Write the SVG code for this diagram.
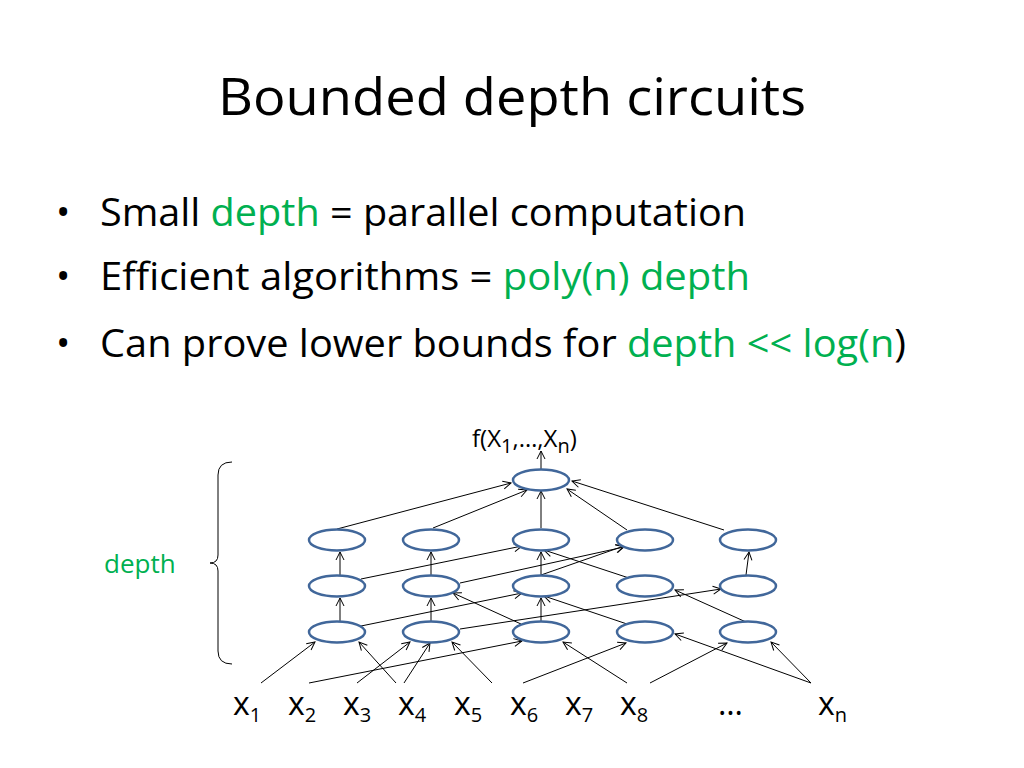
<svg xmlns="http://www.w3.org/2000/svg" width="1024" height="768" viewBox="0 0 1024 768">
<defs><marker id="a" markerWidth="10" markerHeight="10" refX="9" refY="5" orient="auto" markerUnits="userSpaceOnUse"><path d="M1,1 L9,5 L1,9" fill="none" stroke="#000" stroke-width="1"/></marker></defs>
<style>
text{font-family:"Open Sans","Liberation Sans",sans-serif;fill:#000}
.g{fill:#00B050}
ellipse{fill:#fff;stroke:#41679A;stroke-width:2.5}
.c line{stroke:#000;stroke-width:1;marker-end:url(#a)}
.s{font-size:20px}
</style>
<rect width="1024" height="768" fill="#fff"/>
<text x="218" y="115" font-size="52" textLength="588" lengthAdjust="spacingAndGlyphs">Bounded depth circuits</text>
<g font-size="38">
<text x="56" y="226">•</text><text x="100" y="226" textLength="646" lengthAdjust="spacingAndGlyphs">Small <tspan class="g">depth</tspan> = parallel computation</text>
<text x="56" y="290">•</text><text x="100" y="290" textLength="650" lengthAdjust="spacingAndGlyphs">Efficient algorithms = <tspan class="g">poly(n) depth</tspan></text>
<text x="56" y="357">•</text><text x="100" y="357" textLength="806" lengthAdjust="spacingAndGlyphs">Can prove lower bounds for <tspan class="g">depth &lt;&lt; log(n</tspan>)</text>
</g>
<text x="472" y="447" font-size="24">f(X<tspan class="s" dy="6">1</tspan><tspan dy="-6">,…,X</tspan><tspan class="s" dy="6">n</tspan><tspan dy="-6">)</tspan></text>
<text x="104" y="573" font-size="26" class="g">depth</text>
<path d="M232,462 Q218,462 218,475 L218,555 Q218,563 210,563 Q218,563 218,571 L218,651 Q218,664 232,664" fill="none" stroke="#000" stroke-width="1"/>
<g class="c">
<line x1="541" y1="470" x2="541" y2="451"/>
<line x1="337" y1="529" x2="511" y2="483"/>
<line x1="433" y1="528" x2="527" y2="490"/>
<line x1="541" y1="528" x2="541" y2="491"/>
<line x1="627" y1="530" x2="567" y2="489"/>
<line x1="724" y1="530" x2="572" y2="481"/>
<line x1="340" y1="575" x2="340" y2="552"/>
<line x1="431" y1="575" x2="431" y2="552"/>
<line x1="541" y1="575" x2="541" y2="552"/>
<line x1="746" y1="575" x2="749" y2="552"/>
<line x1="361" y1="579" x2="522" y2="546"/>
<line x1="460" y1="583" x2="624" y2="547"/>
<line x1="541" y1="575" x2="624" y2="546"/>
<line x1="632" y1="579" x2="544" y2="550"/>
<line x1="340" y1="621" x2="340" y2="598"/>
<line x1="431" y1="621" x2="431" y2="598"/>
<line x1="541" y1="621" x2="541" y2="598"/>
<line x1="361" y1="626" x2="522" y2="593"/>
<line x1="460" y1="629" x2="721" y2="589"/>
<line x1="521" y1="624" x2="453" y2="593"/>
<line x1="627" y1="624" x2="544" y2="596"/>
<line x1="746" y1="622" x2="675" y2="590"/>
<line x1="261" y1="683" x2="315" y2="642"/>
<line x1="309" y1="683" x2="522" y2="641"/>
<line x1="357" y1="683" x2="410" y2="642"/>
<line x1="396" y1="683" x2="359" y2="642"/>
<line x1="404" y1="683" x2="430" y2="643"/>
<line x1="492" y1="683" x2="452" y2="642"/>
<line x1="523" y1="683" x2="626" y2="643"/>
<line x1="627" y1="683" x2="563" y2="642"/>
<line x1="650" y1="683" x2="727" y2="643"/>
<line x1="811" y1="683" x2="675" y2="634"/>
<line x1="811" y1="683" x2="771" y2="642"/>
</g>
<g id="n0"><ellipse cx="541" cy="480" rx="28" ry="10.5"/></g>
<g id="r1">
<ellipse cx="337" cy="540" rx="28" ry="10.5"/><ellipse cx="431" cy="540" rx="28" ry="10.5"/><ellipse cx="541" cy="540" rx="28" ry="10.5"/><ellipse cx="645" cy="540" rx="28" ry="10.5"/><ellipse cx="748" cy="540" rx="28" ry="10.5"/></g>
<g id="r2">
<ellipse cx="337" cy="586" rx="28" ry="10.5"/><ellipse cx="431" cy="586" rx="28" ry="10.5"/><ellipse cx="541" cy="586" rx="28" ry="10.5"/><ellipse cx="645" cy="586" rx="28" ry="10.5"/><ellipse cx="748" cy="586" rx="28" ry="10.5"/></g>
<g id="r3">
<ellipse cx="337" cy="632" rx="28" ry="10.5"/><ellipse cx="431" cy="632" rx="28" ry="10.5"/><ellipse cx="541" cy="632" rx="28" ry="10.5"/><ellipse cx="645" cy="632" rx="28" ry="10.5"/><ellipse cx="748" cy="632" rx="28" ry="10.5"/></g>
<g font-size="32">
<text x="233" y="715">x<tspan class="s" dy="7">1</tspan></text>
<text x="288" y="715">x<tspan class="s" dy="7">2</tspan></text>
<text x="343" y="715">x<tspan class="s" dy="7">3</tspan></text>
<text x="398" y="715">x<tspan class="s" dy="7">4</tspan></text>
<text x="454" y="715">x<tspan class="s" dy="7">5</tspan></text>
<text x="510" y="715">x<tspan class="s" dy="7">6</tspan></text>
<text x="565" y="715">x<tspan class="s" dy="7">7</tspan></text>
<text x="620" y="715">x<tspan class="s" dy="7">8</tspan></text>
<text x="718" y="715">…</text>
<text x="818" y="715">x<tspan class="s" dy="7">n</tspan></text>
</g>
</svg>
